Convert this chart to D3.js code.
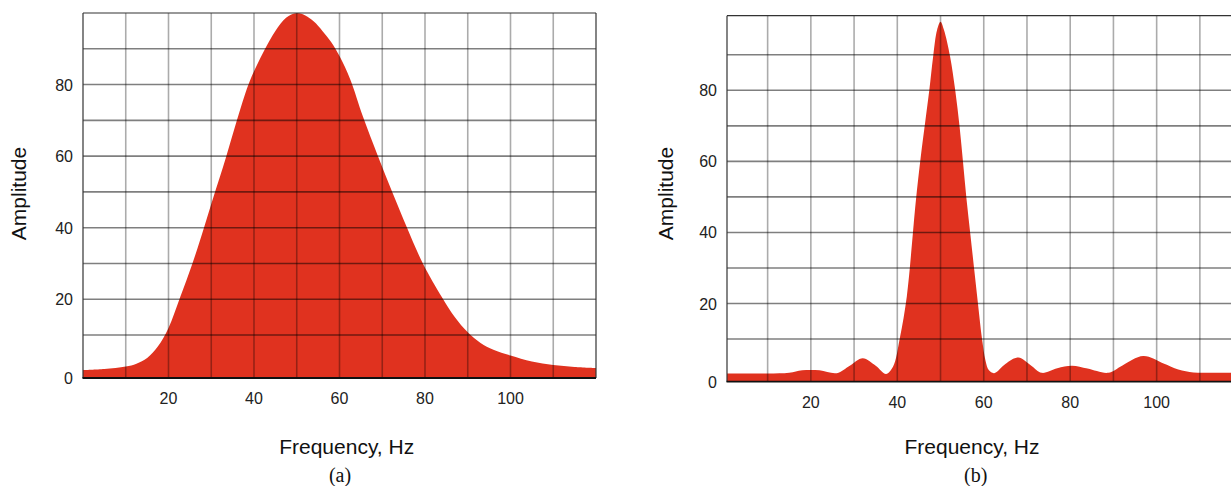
<!DOCTYPE html>
<html>
<head>
<meta charset="utf-8">
<script src="https://cdn.jsdelivr.net/npm/d3@7"></script>
<style>
  html, body { margin: 0; padding: 0; background: #fff; }
  svg { display: block; }
</style>
</head>
<body>
<svg id="chart" width="1231" height="486"></svg>
<script>
// ---- data ----
const freqA = [0, 5, 10, 12.5, 15, 17.5, 20, 22.7, 25.6, 28.3, 30.5, 33.4, 36, 38.7, 40.5, 42.6, 45, 47.5, 50, 52, 54, 56, 58, 60, 62.5, 65.5, 69, 72.5, 75.8, 79.5, 84, 87, 90, 93, 96, 100, 105, 110, 115, 120];
const ampA  = [0.2, 0.5, 1.2, 2.0, 3.6, 6.8, 12, 20.5, 30, 40, 48.5, 59.5, 70, 80, 85, 90, 95, 98.7, 100, 99.3, 97.6, 95, 92, 88, 81.5, 71, 60, 49.5, 40, 30, 20.5, 15, 10.8, 7.8, 5.9, 4.3, 2.6, 1.6, 1.1, 0.8];

const freqB = [0.6, 10, 15, 18, 22, 26, 29, 32, 35, 37.4, 39, 40.6, 42.2, 43.6, 44.3, 45.4, 46.5, 47.4, 48.3, 49.2, 50, 50.8, 52.2, 53.4, 54.4, 55.2, 56, 56.9, 57.8, 58.7, 59.6, 60.4, 61.2, 62.4, 65, 68, 71, 73.4, 77, 80.4, 84, 88.8, 92, 96.9, 101.6, 105, 108.5, 112, 117.2];
const ampB  = [0.3, 0.3, 0.5, 1.2, 1.2, 0.4, 2.5, 4.6, 2.5, 0.2, 2.2, 10.4, 22, 39.7, 49, 61, 71.5, 80, 89.6, 97, 99.3, 97, 89.6, 80, 69.9, 59.8, 49.5, 39.5, 29.5, 19.5, 10, 4, 1.2, 0.4, 3, 4.8, 2.5, 0.5, 1.8, 2.5, 1.7, 0.5, 2.5, 5.2, 3.1, 1.4, 0.6, 0.5, 0.5];

const xTickLabels = [20, 40, 60, 80, 100];
const yTickLabels = [0, 20, 40, 60, 80];
const xGrid = [10, 20, 30, 40, 50, 60, 70, 80, 90, 100, 110];
const yGrid = [10, 20, 30, 40, 50, 60, 70, 80, 90];
const xTitle = "Frequency, Hz";
const yTitle = "Amplitude";
const captions = ["(a)", "(b)"];

// ---- layout ----
const panels = [
  { freq: freqA, amp: ampA, xDom: [0, 120], xRange: [83, 596], yDom: [-2, 100], yRange: [378, 13],
    rightBorder: true, xTitleX: 346.7, capX: 340, yTitleX: 26 },
  { freq: freqB, amp: ampB, xDom: [0.6, 117.2], xRange: [727, 1231], yDom: [-2, 101], yRange: [381.7, 15.7],
    rightBorder: false, xTitleX: 972, capX: 975.7, yTitleX: 673 }
];

const svg = d3.select("#chart");
const sans = "'Liberation Sans', Arial, sans-serif";
const serif = "'Liberation Serif', 'Times New Roman', serif";

panels.forEach((p, i) => {
  const x = d3.scaleLinear().domain(p.xDom).range(p.xRange);
  const y = d3.scaleLinear().domain(p.yDom).range(p.yRange);
  const g = svg.append("g");
  const [x0, x1] = p.xRange;
  const [yb, yt] = p.yRange;

  const pts = p.freq.map((f, k) => [f, p.amp[k]]);
  const area = d3.area()
    .x(d => x(d[0]))
    .y0(yb)
    .y1(d => Math.max(y(d[1]), yt))
    .curve(d3.curveCatmullRom.alpha(0.5));

  g.append("path").datum(pts)
    .attr("d", area)
    .attr("fill", "#e0321f");

  // vertical grid
  g.selectAll("line.vg").data(xGrid.filter(v => x(v) < x1 - 2)).join("line")
    .attr("x1", d => x(d)).attr("x2", d => x(d))
    .attr("y1", yt).attr("y2", yb)
    .attr("stroke", "#000").attr("stroke-opacity", 0.33).attr("stroke-width", 1.6);

  // horizontal grid
  g.selectAll("line.hg").data(yGrid).join("line")
    .attr("x1", x0).attr("x2", x1)
    .attr("y1", d => y(d)).attr("y2", d => y(d))
    .attr("stroke", "#000").attr("stroke-opacity", 0.5).attr("stroke-width", 1.6);

  // borders
  g.append("line").attr("x1", x0).attr("x2", x1).attr("y1", yt).attr("y2", yt)
    .attr("stroke", "#333").attr("stroke-width", 1.2);
  g.append("line").attr("x1", x0).attr("x2", x0).attr("y1", yt).attr("y2", yb)
    .attr("stroke", "#333").attr("stroke-width", 1.2);
  if (p.rightBorder) {
    g.append("line").attr("x1", x1).attr("x2", x1).attr("y1", yt).attr("y2", yb)
      .attr("stroke", "#333").attr("stroke-width", 1.2);
  }
  g.append("line").attr("x1", x0 - 0.5).attr("x2", x1).attr("y1", yb).attr("y2", yb)
    .attr("stroke", "#111").attr("stroke-width", 1.8);

  // tick labels
  g.selectAll("text.xt").data(xTickLabels).join("text")
    .attr("x", d => x(d)).attr("y", yb + 26)
    .attr("text-anchor", "middle")
    .attr("font-family", sans).attr("font-size", 16).attr("fill", "#222")
    .text(d => d);

  g.selectAll("text.yt").data(yTickLabels).join("text")
    .attr("x", x0 - 10)
    .attr("y", d => (d === 0 ? yb : y(d)) + 6)
    .attr("text-anchor", "end")
    .attr("font-family", sans).attr("font-size", 16).attr("fill", "#222")
    .text(d => d);

  // titles
  g.append("text")
    .attr("x", p.xTitleX).attr("y", 454)
    .attr("text-anchor", "middle")
    .attr("font-family", sans).attr("font-size", 21).attr("fill", "#111")
    .text(xTitle);

  g.append("text")
    .attr("transform", `translate(${p.yTitleX},193.5) rotate(-90)`)
    .attr("text-anchor", "middle")
    .attr("font-family", sans).attr("font-size", 21).attr("fill", "#111")
    .text(yTitle);

  g.append("text")
    .attr("x", p.capX).attr("y", 482)
    .attr("text-anchor", "middle")
    .attr("font-family", serif).attr("font-size", 20).attr("fill", "#111")
    .text(captions[i]);
});
</script>
</body>
</html>
